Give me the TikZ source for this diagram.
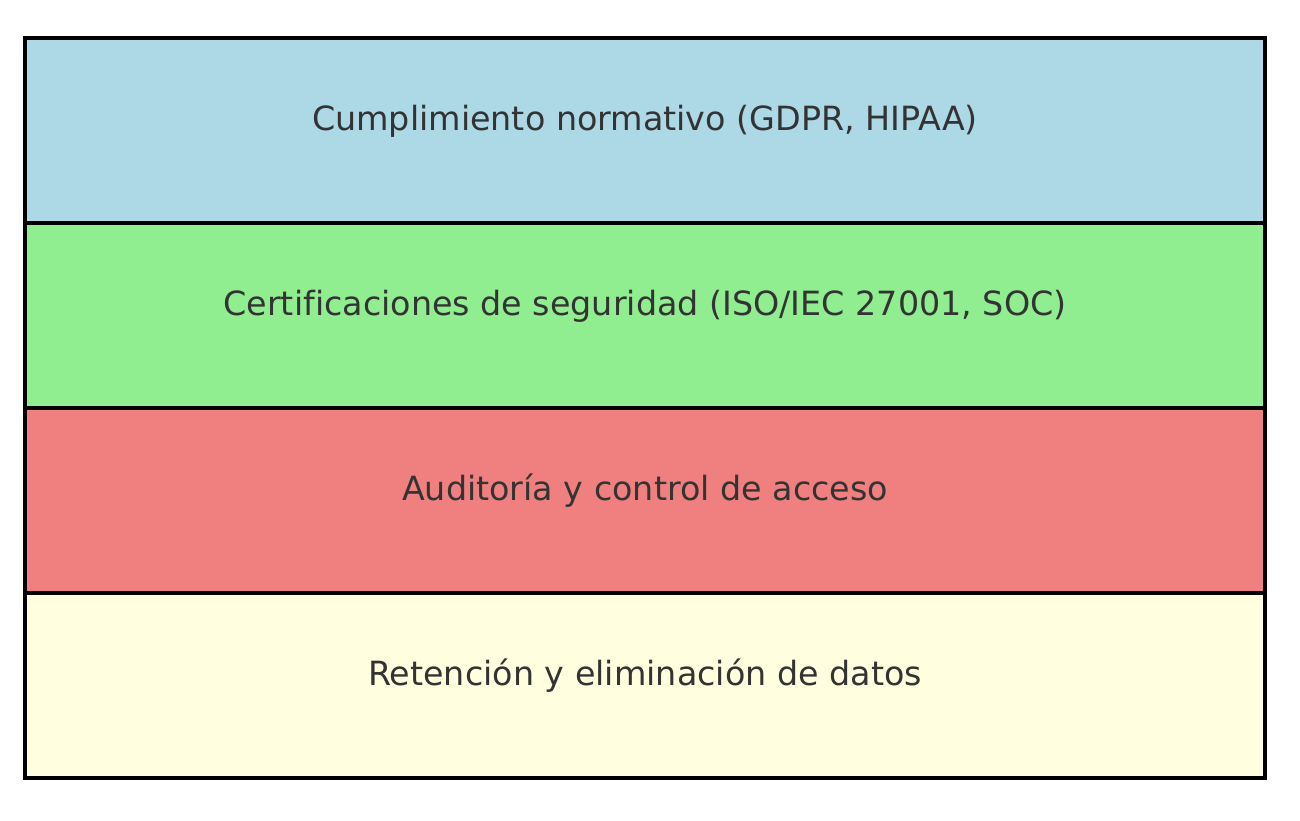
\documentclass[tikz,border=0pt]{standalone}
\usepackage{fontspec}
\setmainfont{DejaVu Sans}[Ligatures={NoCommon}]
\definecolor{lblue}{HTML}{ADD8E6}
\definecolor{lgreen}{HTML}{90EE90}
\definecolor{lcoral}{HTML}{F08080}
\definecolor{lyellow}{HTML}{FFFFE0}
\definecolor{txt}{HTML}{333333}
\begin{document}
\begin{tikzpicture}[x=0.48pt,y=-0.48pt,
  band/.style={draw=black,line width=1.6pt,minimum width=1240*0.48pt,minimum height=185*0.48pt,inner sep=0pt,outer sep=0pt},
  lbl/.style={anchor=base,text=txt,font=\fontsize{16}{19}\selectfont,inner sep=0pt}]
\useasboundingbox (0,0) rectangle (1300,820);
\node[band,fill=lblue]   (b1) at (645,130.5) {};
\node[band,fill=lgreen]  (b2) at (645,315.5) {};
\node[band,fill=lcoral]  (b3) at (645,500.5) {};
\node[band,fill=lyellow] (b4) at (645,685.5) {};
\node[lbl] (t1) at (b1.center) {Cumplimiento normativo (GDPR, HIPAA)};
\node[lbl] (t2) at (b2.center) {Certificaciones de seguridad (ISO/IEC 27001, SOC)};
\node[lbl] (t3) at (b3.center) {Auditoría y control de acceso};
\node[lbl] (t4) at (b4.center) {Retención y eliminación de datos};
\end{tikzpicture}
\end{document}
